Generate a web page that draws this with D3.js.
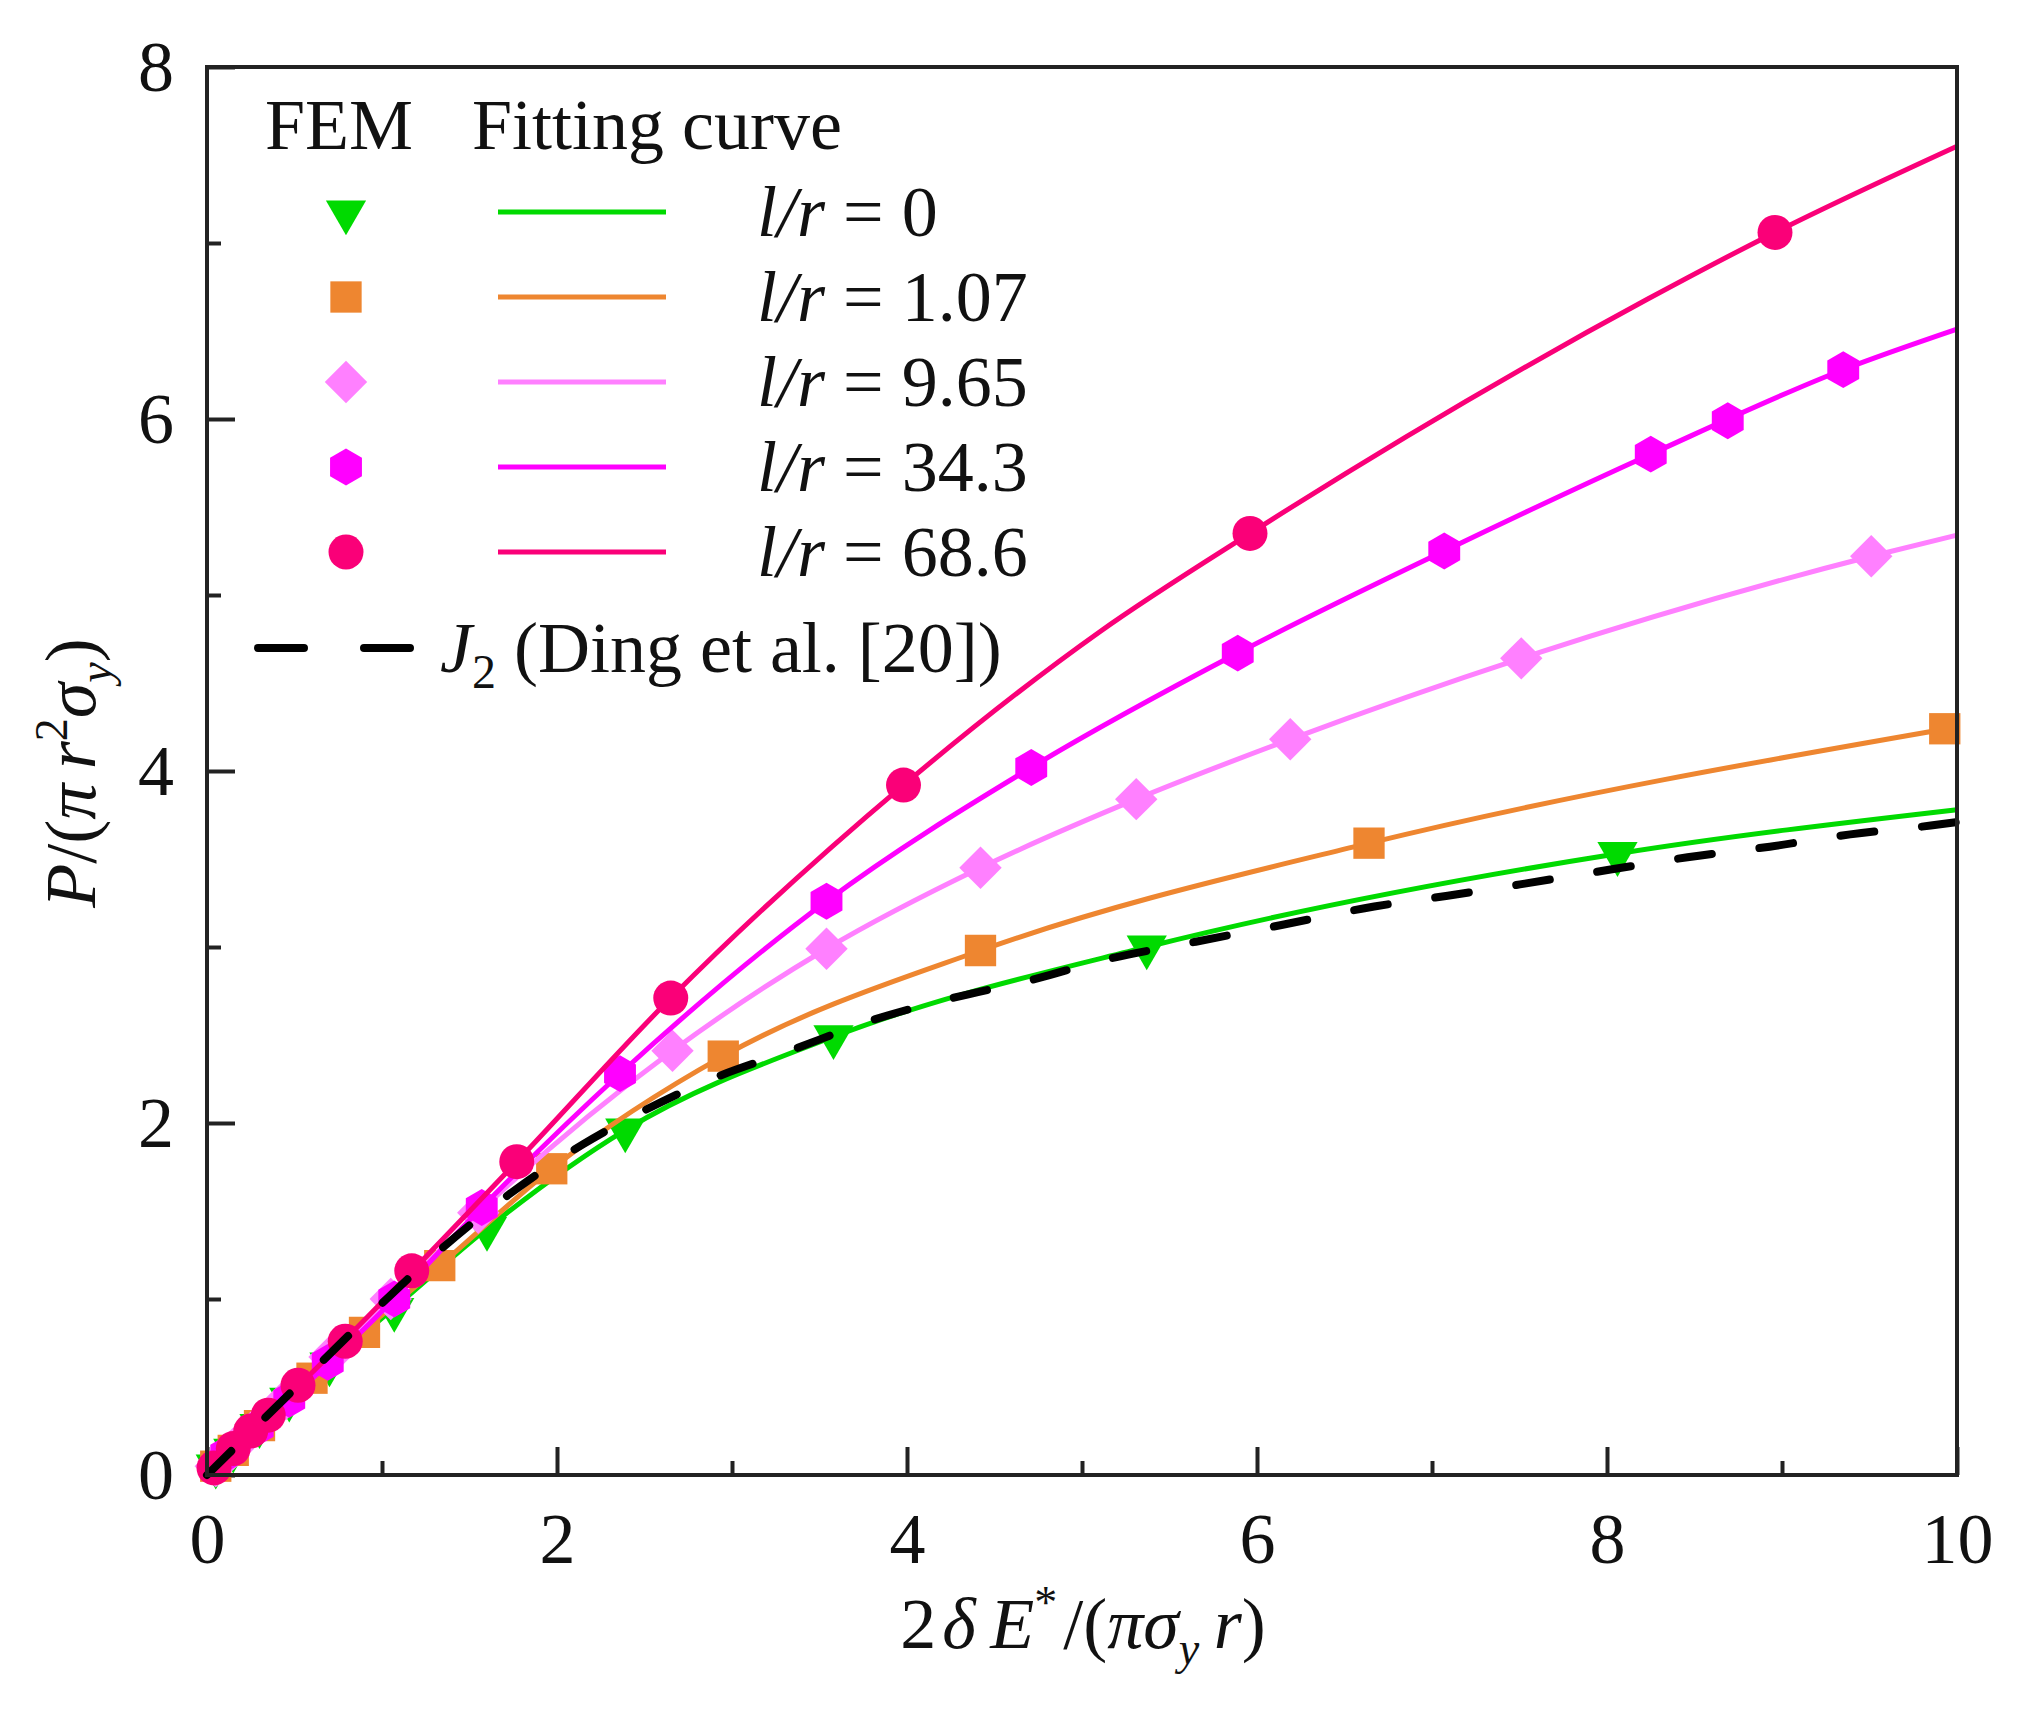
<!DOCTYPE html>
<html>
<head>
<meta charset="utf-8">
<script src="https://cdn.jsdelivr.net/npm/d3@7"></script>
<style>
  body { margin: 0; background: #fff; }
  svg { display: block; font-family: "Liberation Serif", "Times New Roman", serif; }
</style>
</head>
<body>
<svg id="chart" width="2030" height="1718"></svg>
<script>
// FEM results
const femX0   = [0.05, 0.15, 0.3, 0.47, 0.7, 1.07, 1.6, 2.39, 3.58, 5.37, 8.06];
const femY0   = [0.05, 0.14, 0.28, 0.43, 0.63, 0.94, 1.40, 1.96, 2.49, 3.0, 3.53];
const femX107 = [0.05, 0.15, 0.3, 0.6, 0.9, 1.33, 1.97, 2.95, 4.42, 6.64, 9.93];
const femY107 = [0.05, 0.14, 0.28, 0.55, 0.81, 1.19, 1.74, 2.38, 2.98, 3.59, 4.24];
const femX965 = [0.05, 0.15, 0.3, 0.45, 0.7, 1.05, 1.55, 2.66, 3.54, 4.42, 5.31, 6.19, 7.51, 9.51];
const femY965 = [0.05, 0.15, 0.29, 0.43, 0.67, 1.0, 1.49, 2.41, 2.99, 3.45, 3.84, 4.18, 4.64, 5.22];
const femX343 = [0.11, 0.29, 0.47, 0.69, 1.07, 1.57, 2.36, 3.54, 4.71, 5.89, 7.07, 8.25, 8.69, 9.35];
const femY343 = [0.12, 0.27, 0.43, 0.64, 1.0, 1.52, 2.28, 3.26, 4.02, 4.67, 5.25, 5.80, 5.99, 6.28];
const femX686 = [0.04, 0.15, 0.25, 0.35, 0.52, 0.79, 1.17, 1.77, 2.65, 3.98, 5.96, 8.96];
const femY686 = [0.04, 0.15, 0.25, 0.34, 0.51, 0.76, 1.16, 1.78, 2.71, 3.92, 5.35, 7.06];

// fitting curves
const fitX0   = [0, 0.5, 1.07, 1.6, 2.39, 3.58, 5.37, 8.06, 10];
const fitY0   = [0, 0.47, 0.95, 1.40, 1.96, 2.49, 3.0, 3.53, 3.78];
const fitX107 = [0, 0.6, 1.33, 1.97, 2.95, 4.42, 6.64, 10];
const fitY107 = [0, 0.56, 1.19, 1.74, 2.38, 2.98, 3.59, 4.25];
const fitX965 = [0, 1.05, 1.55, 2.66, 3.54, 4.42, 5.31, 6.19, 7.51, 9.51, 10];
const fitY965 = [0, 1.0, 1.49, 2.41, 2.99, 3.45, 3.84, 4.18, 4.64, 5.22, 5.34];
const fitX343 = [0, 1.07, 1.57, 2.36, 3.54, 4.71, 5.89, 7.07, 8.25, 9.35, 10];
const fitY343 = [0, 1.0, 1.52, 2.28, 3.26, 4.02, 4.67, 5.25, 5.80, 6.28, 6.51];
const fitX686 = [0, 0.79, 1.77, 2.65, 3.98, 5.1, 5.96, 8.23, 8.96, 10];
const fitY686 = [0, 0.77, 1.78, 2.71, 3.92, 4.79, 5.35, 6.68, 7.06, 7.55];

// J2 solution (Ding et al.)
const j2X = [0, 0.5, 0.9, 1.31, 1.72, 2.15, 2.42, 2.86, 3.33, 3.82, 4.26, 4.74, 5.1, 5.65, 6.14, 6.67, 7.08, 7.53, 8.02, 8.46, 8.93, 9.39, 9.85, 10];
const j2Y = [0, 0.49, 0.88, 1.26, 1.59, 1.88, 2.03, 2.24, 2.41, 2.59, 2.71, 2.82, 2.92, 3.03, 3.125, 3.23, 3.29, 3.36, 3.44, 3.51, 3.57, 3.64, 3.69, 3.71];

const ratioLabels = ["0", "1.07", "9.65", "34.3", "68.6"];
const xTicks = [0, 2, 4, 6, 8, 10];
const xMinor = [1, 3, 5, 7, 9];
const yTicks = [0, 2, 4, 6, 8];
const yMinor = [1, 3, 5, 7];

const zip = (xs, ys) => xs.map((v, i) => [v, ys[i]]);

// hexagon isn't in d3, so a small custom symbol type
const symbolHexagon = {
  draw(ctx, size) {
    const r = Math.sqrt(size / (1.5 * Math.sqrt(3)));
    for (let i = 0; i < 6; i++) {
      const a = Math.PI / 2 + i * Math.PI / 3;
      const px = r * Math.cos(a), py = r * Math.sin(a);
      if (i === 0) ctx.moveTo(px, py); else ctx.lineTo(px, py);
    }
    ctx.closePath();
  }
};

const series = [
  { label: ratioLabels[0], color: "#00DA00", fem: zip(femX0, femY0),     fit: zip(fitX0, fitY0),     sym: d3.symbolTriangle, size: 700, rot: 180 },
  { label: ratioLabels[1], color: "#EE8630", fem: zip(femX107, femY107), fit: zip(fitX107, fitY107), sym: d3.symbolSquare,   size: 980, rot: 0 },
  { label: ratioLabels[2], color: "#FF80FF", fem: zip(femX965, femY965), fit: zip(fitX965, fitY965), sym: d3.symbolSquare,   size: 900, rot: 45 },
  { label: ratioLabels[3], color: "#FF00FF", fem: zip(femX343, femY343), fit: zip(fitX343, fitY343), sym: symbolHexagon,    size: 880, rot: 0 },
  { label: ratioLabels[4], color: "#FA0078", fem: zip(femX686, femY686), fit: zip(fitX686, fitY686), sym: d3.symbolCircle,   size: 960, rot: 0 }
];

const svg = d3.select("#chart");
const margin = { left: 207, right: 1957, top: 67, bottom: 1475 };
const fontSize = 72;

const x = d3.scaleLinear().domain([0, 10]).range([margin.left, margin.right]);
const y = d3.scaleLinear().domain([0, 8]).range([margin.bottom, margin.top]);

svg.append("rect").attr("width", 2030).attr("height", 1718).attr("fill", "#fff");

// axes (ticks point inwards)
const styleAxis = g => {
  g.select(".domain").remove();
  g.selectAll("line").attr("stroke", "#222").attr("stroke-width", 4);
  g.selectAll("text").attr("font-size", fontSize).attr("font-family", "Liberation Serif, Times New Roman, serif").attr("fill", "#111");
};

svg.append("g").attr("transform", `translate(0,${margin.bottom})`)
  .call(d3.axisBottom(x).tickValues(xTicks).tickSize(-28).tickPadding(37).tickFormat(d3.format("d")))
  .call(styleAxis);
svg.append("g").attr("transform", `translate(0,${margin.bottom})`)
  .call(d3.axisBottom(x).tickValues(xMinor).tickSize(-14).tickFormat(""))
  .call(styleAxis);
svg.append("g").attr("transform", `translate(${margin.left},0)`)
  .call(d3.axisLeft(y).tickValues(yTicks).tickSize(-28).tickPadding(33).tickFormat(d3.format("d")))
  .call(styleAxis);
svg.append("g").attr("transform", `translate(${margin.left},0)`)
  .call(d3.axisLeft(y).tickValues(yMinor).tickSize(-14).tickFormat(""))
  .call(styleAxis);

const line = d3.line().x(d => x(d[0])).y(d => y(d[1])).curve(d3.curveMonotoneX);

const plot = svg.append("g");
series.forEach(s => {
  plot.append("path").datum(s.fit)
    .attr("d", line).attr("fill", "none")
    .attr("stroke", s.color).attr("stroke-width", 5);
  plot.selectAll(null).data(s.fem).enter().append("path")
    .attr("d", d3.symbol().type(s.sym).size(s.size))
    .attr("transform", d => `translate(${x(d[0])},${y(d[1])}) rotate(${s.rot})`)
    .attr("fill", s.color);
});

plot.append("path").datum(zip(j2X, j2Y))
  .attr("d", line).attr("fill", "none")
  .attr("stroke", "#000").attr("stroke-width", 8)
  .attr("stroke-dasharray", "34,48").attr("stroke-linecap", "round");

// frame
svg.append("rect")
  .attr("x", margin.left).attr("y", margin.top)
  .attr("width", margin.right - margin.left).attr("height", margin.bottom - margin.top)
  .attr("fill", "none").attr("stroke", "#222").attr("stroke-width", 4);

// legend
const leg = svg.append("g").attr("font-size", fontSize).attr("fill", "#111");
leg.append("text").attr("x", 265).attr("y", 149).text("FEM");
leg.append("text").attr("x", 472).attr("y", 149).text("Fitting curve");

series.forEach((s, i) => {
  const ry = 212 + i * 85;
  leg.append("path")
    .attr("d", d3.symbol().type(s.sym).size(s.size))
    .attr("transform", `translate(346,${ry}) rotate(${s.rot})`)
    .attr("fill", s.color);
  leg.append("line").attr("x1", 498).attr("x2", 666).attr("y1", ry).attr("y2", ry)
    .attr("stroke", s.color).attr("stroke-width", 5);
  const t = leg.append("text").attr("x", 757).attr("y", ry + 24);
  t.append("tspan").attr("font-style", "italic").text("l/r");
  t.append("tspan").text(" = " + s.label);
});

leg.append("line").attr("x1", 258).attr("x2", 414).attr("y1", 648).attr("y2", 648)
  .attr("stroke", "#000").attr("stroke-width", 8)
  .attr("stroke-dasharray", "46,60").attr("stroke-linecap", "round");
const jt = leg.append("text").attr("x", 440).attr("y", 672);
jt.append("tspan").attr("font-style", "italic").text("J");
jt.append("tspan").attr("font-size", 48).attr("dy", 16).text("2");
jt.append("tspan").attr("dy", -16).text(" (Ding et al. [20])");

// axis titles
const xt = svg.append("text").attr("x", 1083).attr("y", 1648)
  .attr("text-anchor", "middle").attr("font-size", fontSize).attr("fill", "#111");
xt.append("tspan").text("2\u200a");
xt.append("tspan").attr("font-style", "italic").text("δ\u2009E");
xt.append("tspan").attr("font-size", 46).attr("dy", -30).text("*");
xt.append("tspan").attr("dy", 30).text("\u200a/(");
xt.append("tspan").attr("font-style", "italic").text("πσ");
xt.append("tspan").attr("font-style", "italic").attr("font-size", 46).attr("dy", 16).text("y");
xt.append("tspan").attr("font-style", "italic").attr("dy", -16).text("\u2009r");
xt.append("tspan").text(")");

const yt = svg.append("text")
  .attr("transform", "translate(95,773) rotate(-90)")
  .attr("text-anchor", "middle").attr("font-size", fontSize).attr("fill", "#111");
yt.append("tspan").attr("font-style", "italic").text("P");
yt.append("tspan").text("/(");
yt.append("tspan").attr("font-style", "italic").text("π\u2009r");
yt.append("tspan").attr("font-size", 46).attr("dy", -28).text("2");
yt.append("tspan").attr("font-style", "italic").attr("dy", 28).text("σ");
yt.append("tspan").attr("font-style", "italic").attr("font-size", 46).attr("dy", 16).text("y");
yt.append("tspan").attr("dy", -16).text(")");
</script>
</body>
</html>
